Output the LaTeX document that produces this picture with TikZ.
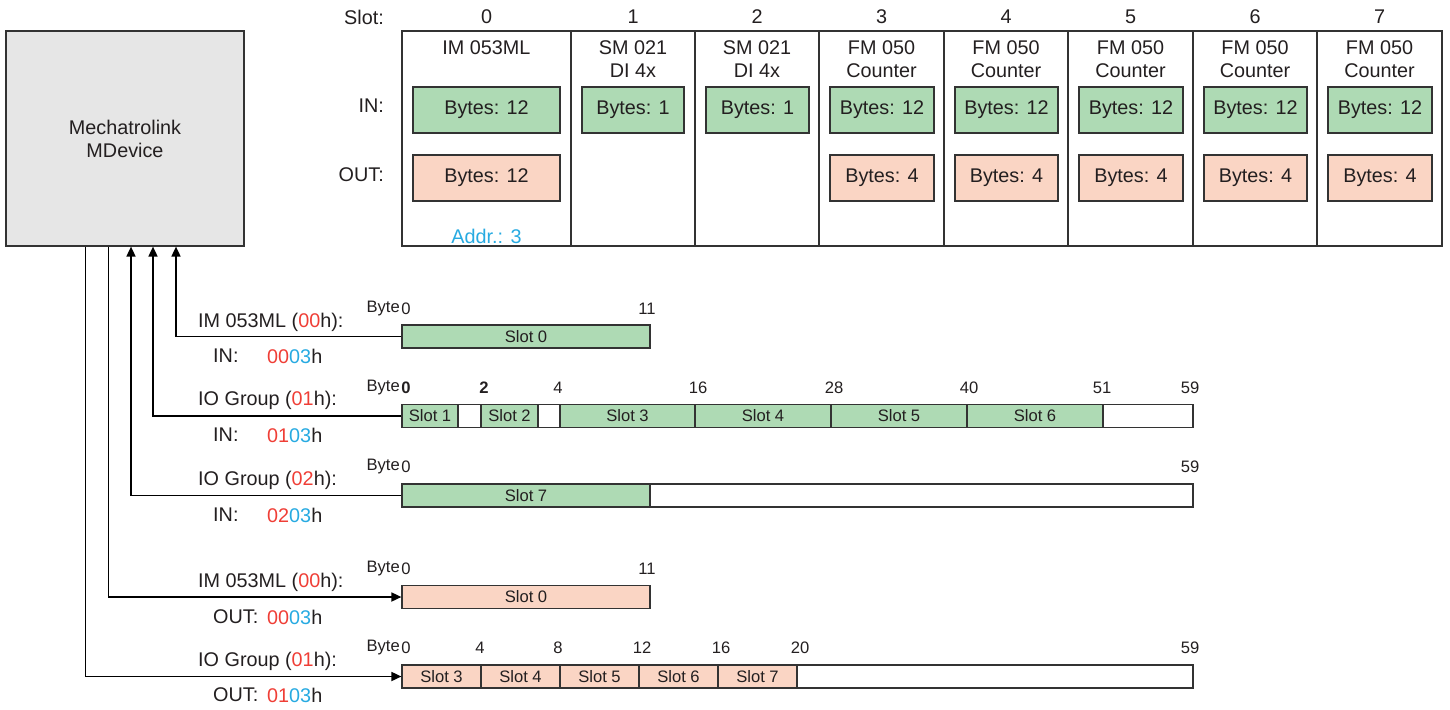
\documentclass[tikz,border=0pt]{standalone}
\usepackage{fontspec}
\setmainfont{Liberation Sans}
\usetikzlibrary{arrows.meta}
\definecolor{ingreen}{HTML}{AEDAB4}
\definecolor{outsalmon}{HTML}{FAD5C4}
\definecolor{devgray}{HTML}{E6E6E6}
\definecolor{linec}{HTML}{333333}
\definecolor{txtc}{HTML}{231F20}
\definecolor{hred}{HTML}{EF3E36}
\definecolor{hcyan}{HTML}{27AAE1}
\newcommand\fbig{\fontsize{19.8}{23}\selectfont}
\newcommand\fsmall{\fontsize{16.6}{18}\selectfont}
\tikzset{
  cell/.style={draw=linec, line width=1.2pt, inner sep=0pt, font=\fbig, text=txtc},
  colbox/.style={cell, minimum height=215pt},
  inb/.style={cell, fill=ingreen, minimum height=46pt},
  outb/.style={cell, fill=outsalmon, minimum height=46pt},
  segbase/.style={draw=linec, line width=1.2pt, inner sep=0pt, minimum height=23pt, font=\fsmall, text=txtc},
  segin/.style={segbase, fill=ingreen},
  segout/.style={segbase, fill=outsalmon},
  segempty/.style={segbase, fill=white},
  lbl/.style={font=\fbig, text=txtc, inner sep=0pt},
  num/.style={font=\fsmall, text=txtc, inner sep=0pt},
  conn/.style={draw=black, line width=1.7pt},
  arr/.style={conn, -{Triangle[length=10pt,width=9pt]}}
}
\begin{document}
\begin{tikzpicture}[x=1pt,y=-1pt]
\useasboundingbox (0,0) rectangle (1450,709);

% device
\node[cell, fill=devgray, minimum width=238pt, minimum height=215pt, align=center] (md) at (125,138.5) {Mechatrolink\\MDevice};

% slot table
\node[lbl, anchor=east] (slotlbl) at (384,17) {Slot:};
\node[lbl, anchor=east] (inlbl) at (384,106) {IN:};
\node[lbl, anchor=east] (outlbl) at (384,175) {OUT:};

\node[colbox, minimum width=169pt] (col0) at (486.5,138.5) {};
\node[colbox, minimum width=124pt] (col1) at (633,138.5) {};
\node[colbox, minimum width=124pt] (col2) at (757,138.5) {};
\node[colbox, minimum width=125pt] (col3) at (881.5,138.5) {};
\node[colbox, minimum width=124pt] (col4) at (1006,138.5) {};
\node[colbox, minimum width=125pt] (col5) at (1130.5,138.5) {};
\node[colbox, minimum width=124pt] (col6) at (1255,138.5) {};
\node[colbox, minimum width=125pt] (col7) at (1379.5,138.5) {};

\node[lbl] (sn0) at (486.5,17) {0};
\node[lbl] (sn1) at (633,17) {1};
\node[lbl] (sn2) at (757,17) {2};
\node[lbl] (sn3) at (881.5,17) {3};
\node[lbl] (sn4) at (1006,17) {4};
\node[lbl] (sn5) at (1130.5,17) {5};
\node[lbl] (sn6) at (1255,17) {6};
\node[lbl] (sn7) at (1379.5,17) {7};

\node[lbl] (mn0) at (486.5,48) {IM 053ML};
\node[lbl, align=center] (mn1) at (633,59.5) {SM 021\\DI 4x};
\node[lbl, align=center] (mn2) at (757,59.5) {SM 021\\DI 4x};
\node[lbl, align=center] (mn3) at (881.5,59.5) {FM 050\\Counter};
\node[lbl, align=center] (mn4) at (1006,59.5) {FM 050\\Counter};
\node[lbl, align=center] (mn5) at (1130.5,59.5) {FM 050\\Counter};
\node[lbl, align=center] (mn6) at (1255,59.5) {FM 050\\Counter};
\node[lbl, align=center] (mn7) at (1379.5,59.5) {FM 050\\Counter};

\node[inb, minimum width=147pt] (in0) at (486.5,110) {Bytes: 12};
\node[inb, minimum width=102pt] (in1) at (633,110) {Bytes: 1};
\node[inb, minimum width=103pt] (in2) at (757.5,110) {Bytes: 1};
\node[inb, minimum width=104pt] (in3) at (882,110) {Bytes: 12};
\node[inb, minimum width=103pt] (in4) at (1006.5,110) {Bytes: 12};
\node[inb, minimum width=104pt] (in5) at (1131,110) {Bytes: 12};
\node[inb, minimum width=103pt] (in6) at (1255.5,110) {Bytes: 12};
\node[inb, minimum width=104pt] (in7) at (1380,110) {Bytes: 12};

\node[outb, minimum width=147pt] (out0) at (486.5,178) {Bytes: 12};
\node[outb, minimum width=104pt] (out3) at (882,178) {Bytes: 4};
\node[outb, minimum width=103pt] (out4) at (1006.5,178) {Bytes: 4};
\node[outb, minimum width=104pt] (out5) at (1131,178) {Bytes: 4};
\node[outb, minimum width=103pt] (out6) at (1255.5,178) {Bytes: 4};
\node[outb, minimum width=104pt] (out7) at (1380,178) {Bytes: 4};

\node[lbl, text=hcyan] (addr) at (486.5,236) {Addr.: 3};

% ---------- bar 1: IM 053ML IN
\node[num, anchor=east] (by1) at (400,309) {Byte};
\node[num] (b1n0) at (406,309) {0};
\node[num] (b1n11) at (647,309) {11};
\node[segin, minimum width=248pt] (b1s0) at (526,336.5) {Slot 0};

% ---------- bar 2: IO Group 01 IN
\node[num, anchor=east] (by2) at (400,388) {Byte};
\node[num, font=\fsmall\bfseries] (b2n0) at (406,388) {0};
\node[num, font=\fsmall\bfseries] (b2n2) at (484,388) {2};
\node[num] (b2n4) at (558,388) {4};
\node[num] (b2n16) at (698,388) {16};
\node[num] (b2n28) at (834,388) {28};
\node[num] (b2n40) at (969,388) {40};
\node[num] (b2n51) at (1102,388) {51};
\node[num] (b2n59) at (1190,388) {59};
\node[segin, minimum width=56pt] (b2s1) at (430,416) {Slot 1};
\node[segempty, minimum width=23pt] (b2e1) at (469.5,416) {};
\node[segin, minimum width=57pt] (b2s2) at (509.5,416) {Slot 2};
\node[segempty, minimum width=22pt] (b2e2) at (549,416) {};
\node[segin, minimum width=135pt] (b2s3) at (627.5,416) {Slot 3};
\node[segin, minimum width=136pt] (b2s4) at (763,416) {Slot 4};
\node[segin, minimum width=136pt] (b2s5) at (899,416) {Slot 5};
\node[segin, minimum width=136pt] (b2s6) at (1035,416) {Slot 6};
\node[segempty, minimum width=90pt] (b2e3) at (1148,416) {};

% ---------- bar 3: IO Group 02 IN
\node[num, anchor=east] (by3) at (400,467) {Byte};
\node[num] (b3n0) at (406,467) {0};
\node[num] (b3n59) at (1190,467) {59};
\node[segin, minimum width=248pt] (b3s7) at (526,495.5) {Slot 7};
\node[segempty, minimum width=543pt] (b3e) at (921.5,495.5) {};

% ---------- bar 4: IM 053ML OUT
\node[num, anchor=east] (by4) at (400,569) {Byte};
\node[num] (b4n0) at (406,569) {0};
\node[num] (b4n11) at (647,569) {11};
\node[segout, minimum width=248pt] (b4s0) at (526,597) {Slot 0};

% ---------- bar 5: IO Group 01 OUT
\node[num, anchor=east] (by5) at (400,648) {Byte};
\node[num] (b5n0) at (406,648) {0};
\node[num] (b5n4) at (480,648) {4};
\node[num] (b5n8) at (558,648) {8};
\node[num] (b5n12) at (642,648) {12};
\node[num] (b5n16) at (721,648) {16};
\node[num] (b5n20) at (800,648) {20};
\node[num] (b5n59) at (1190,648) {59};
\node[segout, minimum width=79pt] (b5s3) at (441.5,676.5) {Slot 3};
\node[segout, minimum width=79pt] (b5s4) at (520.5,676.5) {Slot 4};
\node[segout, minimum width=79pt] (b5s5) at (599.5,676.5) {Slot 5};
\node[segout, minimum width=79pt] (b5s6) at (678.5,676.5) {Slot 6};
\node[segout, minimum width=79pt] (b5s7) at (757.5,676.5) {Slot 7};
\node[segempty, minimum width=396pt] (b5e) at (995,676.5) {};

% ---------- left labels
\node[lbl, anchor=west] (l1) at (198,322) {IM 053ML (\textcolor{hred}{00}h):};
\node[lbl, anchor=west] (l1a) at (213,356) {IN:};
\node[lbl, anchor=west] (l1b) at (267,356) {\textcolor{hred}{00}\textcolor{hcyan}{03}h};
\node[lbl, anchor=west] (l2) at (198,400) {IO Group (\textcolor{hred}{01}h):};
\node[lbl, anchor=west] (l2a) at (213,435) {IN:};
\node[lbl, anchor=west] (l2b) at (267,435) {\textcolor{hred}{01}\textcolor{hcyan}{03}h};
\node[lbl, anchor=west] (l3) at (198,480) {IO Group (\textcolor{hred}{02}h):};
\node[lbl, anchor=west] (l3a) at (213,515) {IN:};
\node[lbl, anchor=west] (l3b) at (267,515) {\textcolor{hred}{02}\textcolor{hcyan}{03}h};
\node[lbl, anchor=west] (l4) at (198,582) {IM 053ML (\textcolor{hred}{00}h):};
\node[lbl, anchor=west] (l4a) at (213,617) {OUT:};
\node[lbl, anchor=west] (l4b) at (267,617) {\textcolor{hred}{00}\textcolor{hcyan}{03}h};
\node[lbl, anchor=west] (l5) at (198,661) {IO Group (\textcolor{hred}{01}h):};
\node[lbl, anchor=west] (l5a) at (213,695) {OUT:};
\node[lbl, anchor=west] (l5b) at (267,695) {\textcolor{hred}{01}\textcolor{hcyan}{03}h};

% ---------- connectors
\coordinate (x1) at (176,0);
\coordinate (x2) at (153,0);
\coordinate (x3) at (131,0);
\coordinate (x4) at (108.5,0);
\coordinate (x5) at (85.5,0);
\draw[arr] (b1s0.west) -| (x1 |- md.south);
\draw[arr] (b2s1.west) -| (x2 |- md.south);
\draw[arr] (b3s7.west) -| (x3 |- md.south);
\draw[arr] (x4 |- md.south) |- (b4s0.west);
\draw[arr] (x5 |- md.south) |- (b5s3.west);
\end{tikzpicture}
\end{document}
